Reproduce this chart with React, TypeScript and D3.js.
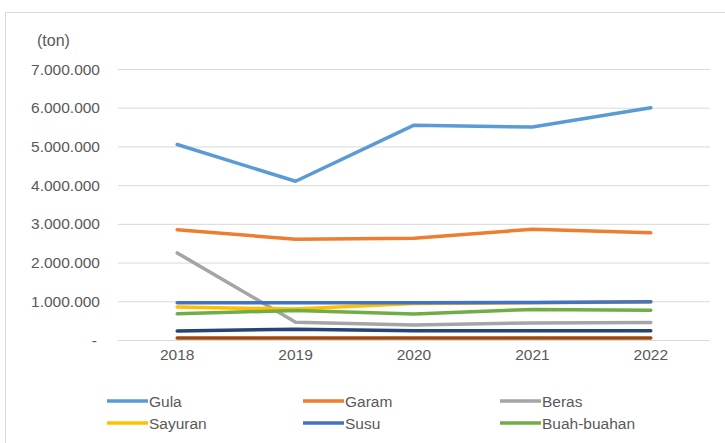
import React from "react";
import * as d3 from "d3";

const years = ["2018", "2019", "2020", "2021", "2022"];
const yTicks = [0, 1000000, 2000000, 3000000, 4000000, 5000000, 6000000, 7000000];

const gula = [5050000, 4100000, 5550000, 5500000, 6000000];
const garam = [2850000, 2600000, 2630000, 2860000, 2770000];
const beras = [2250000, 460000, 390000, 440000, 450000];
const sayuran = [850000, 800000, 940000, 960000, 980000];
const susu = [960000, 960000, 960000, 970000, 990000];
const buah = [680000, 760000, 670000, 790000, 770000];
const seri7 = [230000, 280000, 240000, 240000, 240000];
const seri8 = [50000, 50000, 50000, 50000, 50000];

const seriesNames = ["Gula", "Garam", "Beras", "Sayuran", "Susu", "Buah-buahan", "Seri 7", "Seri 8"];
const seriesValues = [gula, garam, beras, sayuran, susu, buah, seri7, seri8];
const seriesColors = ["#5B9BD5", "#ED7D31", "#A5A5A5", "#FFC000", "#4472C4", "#70AD47", "#264478", "#9E480E"];
const legendCount = 6;

const W = 725;
const H = 443;
const font = "'Liberation Sans', Arial, sans-serif";
const fs = 15.5;

export default function App() {
  const x = d3.scalePoint<string>().domain(years).range([118, 710]).padding(0.5);
  const y = d3.scaleLinear().domain([0, 7000000]).range([340, 69]);
  const line = d3
    .line<number>()
    .x((_, i) => x(years[i]) as number)
    .y((d) => y(d));
  const fmt = (v: number) => (v === 0 ? "-" : d3.format(",")(v).replace(/,/g, "."));

  const legendCols = [107, 303, 500];
  const legendRows = [401, 423];

  return (
    <div style={{ position: "absolute", left: 0, top: 0 }}>
      <svg width={W} height={H} style={{ display: "block", background: "#fff" }}>
        <rect x={5.5} y={12.5} width={800} height={500} fill="#fff" stroke="#d9d9d9" strokeWidth={1} />
        <text x={37} y={46} fontFamily={font} fontSize={16} fill="#595959">
          (ton)
        </text>
        {yTicks.map((t) => (
          <g key={t}>
            <line x1={118} x2={710} y1={y(t) + 0.5} y2={y(t) + 0.5} stroke="#d9d9d9" strokeWidth={1} />
            <text
              x={t === 0 ? 97 : 100}
              y={y(t) + 5.5}
              textAnchor="end"
              fontFamily={font}
              fontSize={fs}
              fill="#595959"
            >
              {fmt(t)}
            </text>
          </g>
        ))}
        {years.map((yr) => (
          <text
            key={yr}
            x={x(yr) as number}
            y={360}
            textAnchor="middle"
            fontFamily={font}
            fontSize={fs}
            fill="#595959"
          >
            {yr}
          </text>
        ))}
        {seriesValues.map((vals, i) => (
          <path
            key={seriesNames[i]}
            d={line(vals) || ""}
            fill="none"
            stroke={seriesColors[i]}
            strokeWidth={3.5}
            strokeLinejoin="round"
            strokeLinecap="round"
          />
        ))}
        {seriesNames.slice(0, legendCount).map((name, i) => {
          const lx = legendCols[i % 3];
          const ly = legendRows[Math.floor(i / 3)];
          return (
            <g key={name}>
              <line x1={lx} x2={lx + 41} y1={ly} y2={ly} stroke={seriesColors[i]} strokeWidth={3.5} />
              <text x={lx + 42} y={ly + 5.5} fontFamily={font} fontSize={fs} fill="#595959">
                {name}
              </text>
            </g>
          );
        })}
      </svg>
    </div>
  );
}
